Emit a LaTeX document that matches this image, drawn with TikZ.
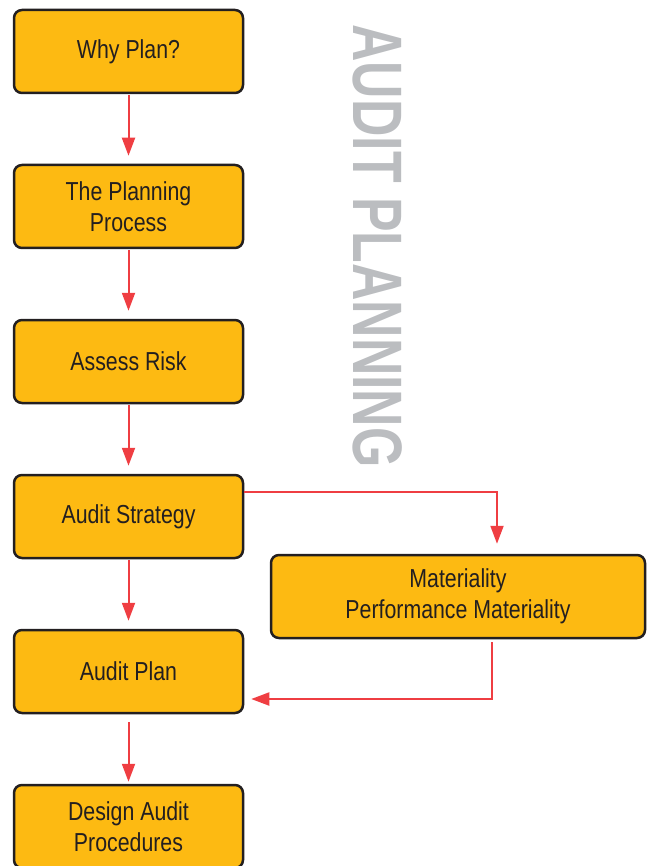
\documentclass[tikz,border=0pt]{standalone}
\usepackage{fontspec}
\setmainfont[FakeStretch=0.82]{Liberation Sans}
\newfontfamily\titlefont[FakeStretch=0.74]{Liberation Sans}
\usetikzlibrary{arrows.meta}
\definecolor{boxfill}{HTML}{FDBA12}
\definecolor{boxline}{HTML}{231F20}
\definecolor{flowred}{HTML}{EF3E42}
\definecolor{titlegray}{HTML}{BBBDC0}
\tikzset{
  stepbox/.style={draw=boxline, fill=boxfill, line width=2.5pt, rounded corners=8pt,
    minimum width=229pt, minimum height=83pt, align=center, inner sep=0pt,
    text=boxline, font=\fontsize{26}{31}\selectfont},
  flow/.style={draw=flowred, line width=2pt, -{Triangle[length=18pt,width=13pt]}},
}
\begin{document}
\begin{tikzpicture}[x=1pt,y=-1pt]
  \useasboundingbox (0,0) rectangle (651,866);

  % main sequence of planning steps
  \node[stepbox] (why)   at (128.5,51.5)  {Why Plan?};
  \node[stepbox] (proc)  at (128.5,206.5) {The Planning\\Process};
  \node[stepbox] (risk)  at (128.5,361.5) {Assess Risk};
  \node[stepbox] (strat) at (128.5,516.5) {Audit Strategy};
  \node[stepbox] (plan)  at (128.5,671.5) {Audit Plan};
  \node[stepbox] (proc2) at (128.5,826.5) {Design Audit\\Procedures};

  % side step
  \node[stepbox, minimum width=374pt] (mat) at (458,596.5) {Materiality\\Performance Materiality};

  % vertical title
  \node[text=titlegray, rotate=-90, font=\titlefont\bfseries\fontsize{70}{70}\selectfont, inner sep=0pt]
    (title) at (378,246) {AUDIT PLANNING};

  % arrows between consecutive steps
  \foreach \a/\b in {why/proc, proc/risk, risk/strat, strat/plan}
    \draw[flow, shorten <=1pt, shorten >=8pt] (\a) -- (\b);
  \draw[flow, shorten <=8pt, shorten >=2pt] (plan) -- (proc2);

  % detour through materiality
  \draw[flow, shorten >=10pt] ([yshift=25pt]strat.east) -| ([xshift=39pt]mat.north);
  \draw[flow, shorten <=3pt, shorten >=7pt] ([xshift=34pt]mat.south) |- ([yshift=-27.5pt]plan.east);
\end{tikzpicture}
\end{document}
